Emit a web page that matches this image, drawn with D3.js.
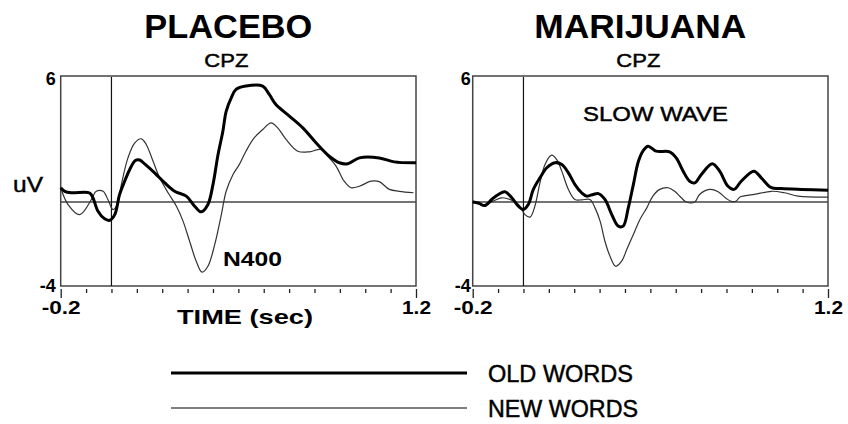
<!DOCTYPE html>
<html>
<head>
<meta charset="utf-8">
<script src="https://cdn.jsdelivr.net/npm/d3@7"></script>
<style>
  body { margin: 0; background: #fff; }
  svg { display: block; font-family: "Liberation Sans", Arial, sans-serif; }
  .med { stroke: #000; stroke-width: 0.45px; }
</style>
</head>
<body>
<div id="chart"></div>
<script>
// time (sec), amplitude (uV)
const placeboOld = [[-0.2,0.68],[-0.184,0.51],[-0.158,0.44],[-0.086,0.43],[-0.073,0.2],[-0.053,-0.44],[-0.027,-0.8],[-0.007,-0.87],[0.013,-0.6],[0.032,0.36],[0.052,0.99],[0.072,1.55],[0.094,1.98],[0.111,2.0],[0.133,1.79],[0.17,1.39],[0.21,0.91],[0.249,0.51],[0.295,0.28],[0.328,-0.2],[0.354,-0.47],[0.38,-0.12],[0.4,0.83],[0.42,2.26],[0.439,3.37],[0.452,4.32],[0.472,4.96],[0.491,5.36],[0.53,5.52],[0.596,5.52],[0.622,5.12],[0.648,4.64],[0.701,4.09],[0.754,3.53],[0.806,2.82],[0.858,2.18],[0.898,1.87],[0.931,1.82],[0.977,2.1],[1.055,2.1],[1.114,1.91],[1.2,1.87]];
const placeboNew = [[-0.2,0.68],[-0.171,-0.12],[-0.125,-0.6],[-0.079,0.12],[-0.06,0.51],[-0.033,0.51],[-0.014,0.12],[0.006,-0.36],[0.023,-0.12],[0.039,0.83],[0.065,2.1],[0.092,2.82],[0.118,3.01],[0.137,2.74],[0.164,1.94],[0.19,1.15],[0.223,0.44],[0.256,-0.2],[0.282,-0.91],[0.308,-1.87],[0.334,-2.82],[0.357,-3.34],[0.38,-3.06],[0.407,-2.02],[0.433,-0.6],[0.452,0.51],[0.479,1.31],[0.504,1.79],[0.53,2.42],[0.563,3.06],[0.596,3.45],[0.629,3.77],[0.655,3.53],[0.688,2.98],[0.734,2.42],[0.78,2.39],[0.826,2.5],[0.858,2.1],[0.885,1.71],[0.917,0.99],[0.944,0.68],[0.977,0.75],[1.023,0.99],[1.055,0.97],[1.095,0.6],[1.134,0.51],[1.19,0.44]];
const marijuanaOld = [[-0.2,0.0],[-0.178,-0.05],[-0.152,-0.17],[-0.125,0.12],[-0.099,0.36],[-0.073,0.49],[-0.046,0.2],[-0.02,-0.2],[-0.001,-0.36],[0.019,-0.12],[0.039,0.6],[0.065,1.15],[0.092,1.63],[0.124,1.87],[0.151,1.79],[0.177,1.39],[0.203,0.83],[0.229,0.44],[0.249,0.28],[0.275,0.36],[0.295,0.4],[0.321,0.12],[0.348,-0.6],[0.374,-1.15],[0.393,-1.15],[0.413,-0.28],[0.433,0.83],[0.453,1.94],[0.472,2.45],[0.491,2.66],[0.523,2.42],[0.576,2.39],[0.602,2.1],[0.629,1.47],[0.655,0.99],[0.675,0.91],[0.701,1.31],[0.744,1.82],[0.773,1.47],[0.806,0.75],[0.83,0.6],[0.858,0.99],[0.908,1.47],[0.937,1.15],[0.977,0.68],[1.016,0.64],[1.095,0.6],[1.2,0.56]];
const marijuanaNew = [[-0.2,0.05],[-0.158,-0.15],[-0.119,0.04],[-0.086,0.2],[-0.053,0.12],[-0.02,-0.12],[0.006,-0.6],[0.026,-0.72],[0.045,-0.2],[0.065,0.91],[0.085,1.79],[0.111,2.23],[0.131,2.02],[0.151,1.47],[0.177,0.6],[0.203,0.12],[0.229,0.1],[0.262,0.12],[0.282,-0.28],[0.302,-0.91],[0.321,-1.87],[0.341,-2.58],[0.363,-3.06],[0.387,-2.82],[0.407,-2.26],[0.433,-1.55],[0.459,-0.83],[0.486,-0.28],[0.51,0.28],[0.537,0.6],[0.57,0.68],[0.596,0.51],[0.622,0.2],[0.642,0.0],[0.675,0.0],[0.694,0.36],[0.734,0.6],[0.767,0.49],[0.799,0.17],[0.819,0.03],[0.839,0.05],[0.852,0.23],[0.911,0.36],[0.977,0.51],[1.029,0.44],[1.082,0.28],[1.2,0.23]];

const xTicks = [-0.2,-0.1,0,0.1,0.2,0.3,0.4,0.5,0.6,0.7,0.8,0.9,1.0,1.1,1.2];
const xLabels = [-0.2, 1.2];
const yLabels = [6, -4];
const panelTitles = ["PLACEBO", "MARIJUANA"];
const legendLabels = ["OLD WORDS", "NEW WORDS"];

const width = 848, height = 424;
const svg = d3.select("#chart").append("svg")
    .attr("width", width)
    .attr("height", height);

const panels = [
    { title: panelTitles[0], left: 60.7, old: placeboOld, neu: placeboNew, titleLen: 168, yGap: 5 },
    { title: panelTitles[1], left: 472.7, old: marijuanaOld, neu: marijuanaNew, titleLen: 212, yGap: 2 }
];

const plotW = 355.3, plotTop = 76, plotBottom = 286;
const fmt = d => d < 0 ? "-" + Math.abs(d) : String(d);

panels.forEach((p, i) => {
    const x = d3.scaleLinear().domain([-0.2, 1.2]).range([p.left, p.left + plotW]);
    const y = d3.scaleLinear().domain([-4, 6]).range([plotBottom, plotTop]);
    const g = svg.append("g");
    const cx = p.left + plotW / 2;

    // titles
    g.append("text")
        .attr("x", cx - 10).attr("y", 38)
        .attr("text-anchor", "middle")
        .attr("textLength", p.titleLen).attr("lengthAdjust", "spacingAndGlyphs")
        .style("font-size", "33px").style("font-weight", "bold")
        .text(p.title);
    g.append("text")
        .attr("class", "med")
        .attr("x", cx - 12).attr("y", 67)
        .attr("text-anchor", "middle")
        .attr("textLength", 44).attr("lengthAdjust", "spacingAndGlyphs")
        .style("font-size", "19px")
        .text("CPZ");

    // frame
    g.append("rect")
        .attr("x", x(-0.2)).attr("y", y(6))
        .attr("width", x(1.2) - x(-0.2)).attr("height", y(-4) - y(6))
        .attr("fill", "none").attr("stroke", "#444").attr("stroke-width", 1.5);

    // zero line + stimulus onset
    g.append("line")
        .attr("x1", x(-0.2)).attr("x2", x(1.2))
        .attr("y1", y(0)).attr("y2", y(0))
        .attr("stroke", "#444").attr("stroke-width", 1.5);
    g.append("line")
        .attr("x1", x(0)).attr("x2", x(0))
        .attr("y1", y(6) + 1).attr("y2", y(-4))
        .attr("stroke", "#111").attr("stroke-width", 1.2);

    // y labels
    yLabels.forEach(v => {
        g.append("text")
            .attr("x", p.left - p.yGap).attr("y", y(v) + (v > 0 ? 9 : 6))
            .attr("text-anchor", "end")
            .style("font-size", "18px").style("font-weight", "bold")
            .text(fmt(v));
    });

    // x axis
    const axis = g.append("g")
        .attr("transform", `translate(0,${plotBottom + 3})`)
        .call(d3.axisBottom(x).tickValues(xTicks).tickSizeInner(4).tickSizeOuter(0)
            .tickFormat(d => xLabels.includes(d) ? fmt(d) : ""));
    axis.select(".domain").remove();
    axis.selectAll(".tick line").attr("stroke", "#222").attr("stroke-width", 1.3)
        .filter(d => xLabels.includes(d)).attr("y2", 9);
    axis.selectAll(".tick text")
        .attr("y", 25).attr("dy", 0)
        .attr("fill", "#000")
        .attr("textLength", d => xLabels.includes(d) ? (d < 0 ? 39 : 29) : null)
        .attr("lengthAdjust", "spacingAndGlyphs")
        .style("font-family", "Liberation Sans, Arial, sans-serif")
        .style("font-size", "18px").style("font-weight", "bold");

    // waves
    const line = d3.line()
        .x(d => x(d[0]))
        .y(d => y(d[1]))
        .curve(d3.curveCatmullRom.alpha(0.5));
    g.append("path").datum(p.neu)
        .attr("d", line).attr("fill", "none")
        .attr("stroke", "#333").attr("stroke-width", 1.2);
    g.append("path").datum(p.old)
        .attr("d", line).attr("fill", "none")
        .attr("stroke", "#000").attr("stroke-width", 3);

    if (i === 0) {
        g.append("text")
            .attr("class", "med")
            .attr("x", 13).attr("y", 192)
            .attr("textLength", 30).attr("lengthAdjust", "spacingAndGlyphs")
            .style("font-size", "22px")
            .text("uV");
        g.append("text")
            .attr("x", 223).attr("y", 266)
            .attr("textLength", 59).attr("lengthAdjust", "spacingAndGlyphs")
            .style("font-size", "21px").style("font-weight", "bold")
            .text("N400");
        g.append("text")
            .attr("x", 245).attr("y", 324)
            .attr("text-anchor", "middle")
            .attr("textLength", 136).attr("lengthAdjust", "spacingAndGlyphs")
            .style("font-size", "21px").style("font-weight", "bold")
            .text("TIME (sec)");
    } else {
        g.append("text")
            .attr("class", "med")
            .attr("x", 583).attr("y", 121)
            .attr("textLength", 145).attr("lengthAdjust", "spacingAndGlyphs")
            .style("font-size", "21px")
            .text("SLOW WAVE");
    }
});

// legend
const legend = svg.append("g");
legendLabels.forEach((lab, i) => {
    const ly = 373 + i * 35;
    legend.append("line")
        .attr("x1", 171).attr("x2", 467)
        .attr("y1", ly).attr("y2", ly)
        .attr("stroke", i === 0 ? "#000" : "#555")
        .attr("stroke-width", i === 0 ? 3 : 1.6);
    legend.append("text")
        .attr("class", "med")
        .attr("x", 488).attr("y", ly + 9)
        .attr("textLength", i === 0 ? 145 : 150).attr("lengthAdjust", "spacingAndGlyphs")
        .style("font-size", "23px")
        .text(lab);
});
</script>
</body>
</html>
